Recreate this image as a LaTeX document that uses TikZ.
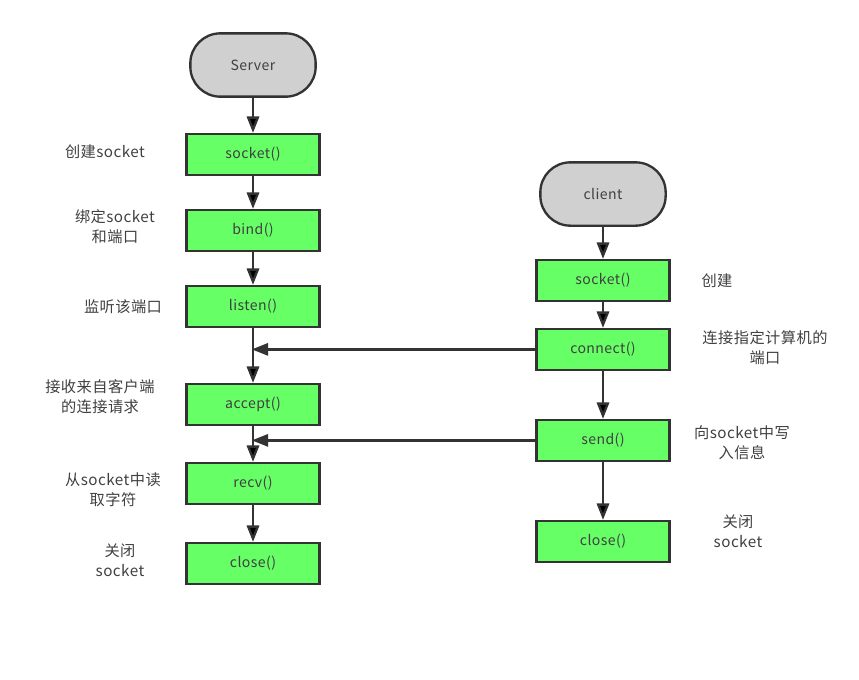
\documentclass[tikz,border=0pt]{standalone}
\usepackage{fontspec}
\setmainfont{Noto Sans CJK SC}[LetterSpace=3]
\usepackage{tikz}
\usetikzlibrary{ arrows.meta, calc, positioning }
\definecolor{boxgreen}{HTML}{66FF66}
\definecolor{termgray}{HTML}{D0D0D0}
\definecolor{linegray}{HTML}{333333}
\definecolor{textgray}{HTML}{404040}
\tikzset{
>={Triangle[length=14pt,width=10.5pt]}, % filled arrow heads
every node/.style={text=textgray, font=\fontsize{12}{16}\selectfont},
term/.style={draw=linegray, line width=2pt, fill=termgray, rounded corners=0.9cm, minimum width=3.76cm, minimum height=1.9cm}, % start nodes
func/.style={draw=linegray, line width=2pt, fill=boxgreen, minimum width=3.99cm, minimum height=1.22cm}, % function boxes
note/.style={align=center, font=\fontsize{13}{17}\selectfont}, % comments beside the boxes
flow/.style={->, draw=linegray, line width=2pt},
}
\begin{document}
\begin{tikzpicture}
  \useasboundingbox (0,0) rectangle (25.77,-20.37);
  % server side
  \node[term] (s0) at (7.59,-1.95) {Server};
  \node[func, below=1.05cm of s0] (s1) {socket()};
  \node[func, below=0.99cm of s1] (s2) {bind()};
  \node[func, below=0.99cm of s2] (s3) {listen()};
  \node[func, below=1.65cm of s3] (s4) {accept()};
  \node[func, below=1.08cm of s4] (s5) {recv()};
  \node[func, below=1.11cm of s5] (s6) {close()};

  % client side
  \node[term] (c0) at (18.09,-5.82) {client};
  \node[func, below=0.96cm of c0] (c1) {socket()};
  \node[func, below=0.78cm of c1] (c2) {connect()};
  \node[func, below=1.44cm of c2] (c3) {send()};
  \node[func, below=1.74cm of c3] (c4) {close()};

  \path[flow]
  (s0) edge (s1)
  (s1) edge (s2)
  (s2) edge (s3)
  (s3) edge (s4)
  (s4) edge (s5)
  (s5) edge (s6)
  (c0) edge (c1)
  (c1) edge (c2)
  (c2) edge (c3)
  (c3) edge (c4);

  \draw[flow, shorten >=-1pt] (c2.west) -- (c2.west -| s3.south);
  \draw[flow, shorten >=-1pt] (c3.west) -- (c3.west -| s4.south);

  % comments
  \node[note] (n1) at (3.15,-4.56) {创建socket};
  \node[note] (n2) at (3.45,-6.81) {绑定socket\\和端口};
  \node[note] (n3) at (3.69,-9.21) {监听该端口};
  \node[note] (n4) at (3.00,-11.91) {接收来自客户端\\的连接请求};
  \node[note] (n5) at (3.39,-14.70) {从socket中读\\取字符};
  \node[note] (n6) at (3.60,-16.80) {关闭\\socket};
  \node[note] (m1) at (21.51,-8.43) {创建};
  \node[note] (m2) at (22.95,-10.44) {连接指定计算机的\\端口};
  \node[note] (m3) at (22.26,-13.29) {向socket中写\\入信息};
  \node[note] (m4) at (22.14,-15.93) {关闭\\socket};
\end{tikzpicture}
\end{document}
